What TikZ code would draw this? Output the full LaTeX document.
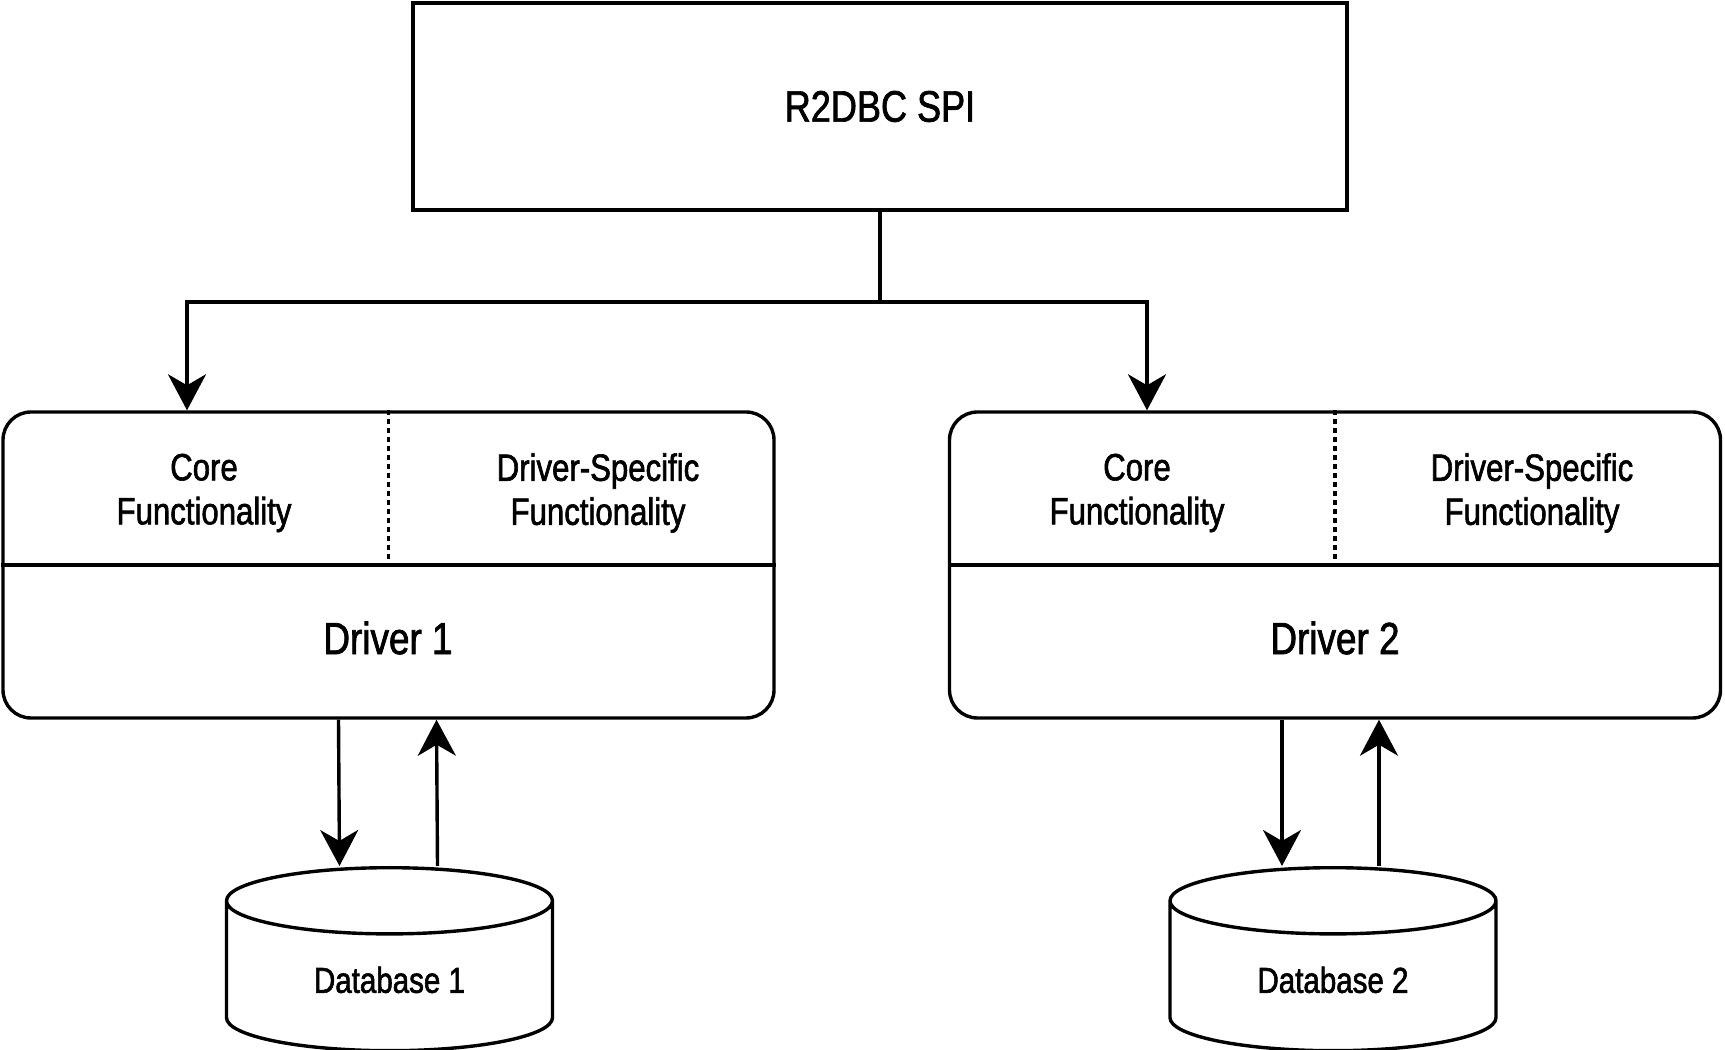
\documentclass[tikz,border=0pt]{standalone}
\usepackage{fontspec}
\setmainfont{Liberation Sans}[FakeStretch=0.82, FakeBold=1.6]
\usepackage{tikz}
\usetikzlibrary{positioning, arrows.meta, shapes.geometric}

\begin{document}
\begin{tikzpicture}[x=1pt, y=1pt,
    every path/.style={line width=3.4pt},
    arr/.style={-{Stealth[length=36pt, width=38pt, inset=11pt]}},
    spibox/.style={draw, minimum width=934pt, minimum height=207pt,
                   font=\fontsize{44}{52}\selectfont},
    drvbox/.style={draw, rounded corners=28pt, minimum width=771pt, minimum height=306pt},
    funclbl/.style={align=center, font=\fontsize{38}{44}\selectfont},
    drvlbl/.style={font=\fontsize{45}{52}\selectfont},
    dbcyl/.style={draw, cylinder, shape border rotate=90, aspect=0.42,
                  minimum width=326pt, minimum height=183pt, anchor=top,
                  font=\fontsize{36}{42}\selectfont}]
  \useasboundingbox (0,0) rectangle (1725,1050);

  % service provider interface
  \node[spibox] (spi) at (880,943.5) {R2DBC SPI};

  % drivers
  \node[drvbox] (drv1) at (388.5,485) {};
  \node[drvbox] (drv2) at (1335,485) {};
  \draw (drv1.west) -- (drv1.east);
  \draw (drv2.west) -- (drv2.east);
  \draw[dash pattern=on 5pt off 4pt, line width=3.2pt] (drv1.north) -- (drv1.center);
  \draw[dash pattern=on 5pt off 4pt, line width=3.2pt] (drv2.north) -- (drv2.center);

  \node[funclbl] (core1) at (204,557) {Core\\Functionality};
  \node[funclbl] (spec1) at (598,557) {Driver-Specific\\Functionality};
  \node[drvlbl] (name1) at (388,412) {Driver 1};
  \node[funclbl] (core2) at (1137,557) {Core\\Functionality};
  \node[funclbl] (spec2) at (1532,557) {Driver-Specific\\Functionality};
  \node[drvlbl] (name2) at (1335,412) {Driver 2};

  % databases
  \node[dbcyl] (db1) at (389.5,184) {Database 1};
  \node[dbcyl] (db2) at (1333,184) {Database 2};

  % connectors
  \coordinate (split) at (880,748);
  \draw (spi.south) -- (split);
  \draw[arr] (split) -| ([xshift=-201.5pt]drv1.north);
  \draw[arr] (split) -| ([xshift=-188pt]drv2.north);

  \draw[arr] ([xshift=-50pt]drv1.south) -- ([xshift=-50pt]db1.top);
  \draw[arr] ([xshift=48pt]db1.top) -- ([xshift=48pt]drv1.south);
  \draw[arr] ([xshift=-53pt]drv2.south) -- ([xshift=-51pt]db2.top);
  \draw[arr] ([xshift=46pt]db2.top) -- ([xshift=44pt]drv2.south);
\end{tikzpicture}
\end{document}
